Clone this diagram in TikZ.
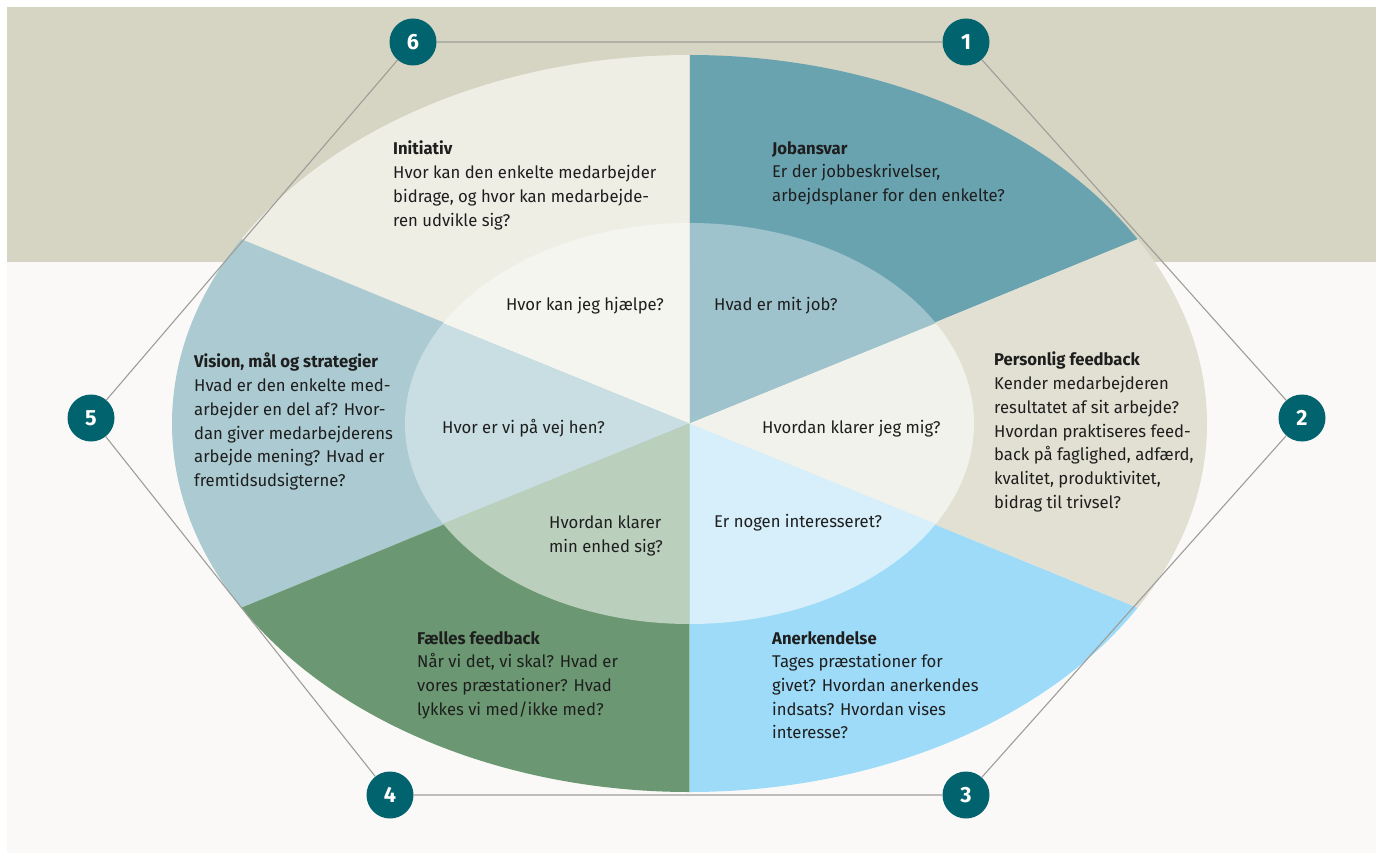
\documentclass[tikz,border=0pt]{standalone}
\usepackage{fontspec}
\setmainfont{Fira Sans}[FakeStretch=0.98]
\usetikzlibrary{calc}
\definecolor{bandc}{HTML}{D6D4C3}
\definecolor{bglight}{HTML}{FAF9F7}
\definecolor{jobO}{HTML}{69A3B0}
\definecolor{jobI}{HTML}{9EC3CC}
\definecolor{iniO}{HTML}{EEEEE5}
\definecolor{iniI}{HTML}{F5F5EF}
\definecolor{visO}{HTML}{ABCAD1}
\definecolor{visI}{HTML}{C9DEE2}
\definecolor{falO}{HTML}{6B9872}
\definecolor{falI}{HTML}{BAD0BC}
\definecolor{aneO}{HTML}{9EDBF8}
\definecolor{aneI}{HTML}{D6EFFB}
\definecolor{perO}{HTML}{E1E0D3}
\definecolor{perI}{HTML}{F2F2EC}
\definecolor{tealc}{HTML}{00636E}
\definecolor{hexc}{HTML}{9E9E99}
\definecolor{txtc}{HTML}{1E1E1E}
\newcommand\wedgeseg[4]{%
  \fill[#2] (C) -- ($(C)+(#1:#3 and #4)$) arc[start angle=#1, delta angle=60, x radius=#3, y radius=#4] -- cycle;}
\begin{document}
\begin{tikzpicture}[x=1pt,y=1pt,
  numc/.style={circle, fill=tealc, minimum size=47pt, inner sep=0pt, text=white, font=\fontsize{22}{22}\selectfont\bfseries},
  hexline/.style={draw=hexc, line width=1.1pt},
  txt/.style={anchor=north west, inner sep=0pt, align=left, text=txtc, font=\fontsize{17}{23.7}\selectfont},
  qtxt/.style={inner sep=0pt, text=txtc, font=\fontsize{17}{23.7}\selectfont}]
\useasboundingbox (0,0) rectangle (1376,-856);
\fill[white] (0,0) rectangle (1376,-856);
\fill[bglight] (7,-7) rectangle (1376,-853);
\fill[bandc] (7,-7) rectangle (1376,-262);
\coordinate (C) at (689.5,-423.5);
% outer sectors
\wedgeseg{30}{jobO}{517.5}{368.5}
\wedgeseg{90}{iniO}{517.5}{368.5}
\wedgeseg{150}{visO}{517.5}{368.5}
\wedgeseg{210}{falO}{517.5}{368.5}
\wedgeseg{270}{aneO}{517.5}{368.5}
\wedgeseg{330}{perO}{517.5}{368.5}
% inner sectors
\wedgeseg{30}{jobI}{284.5}{200.5}
\wedgeseg{90}{iniI}{284.5}{200.5}
\wedgeseg{150}{visI}{284.5}{200.5}
\wedgeseg{210}{falI}{284.5}{200.5}
\wedgeseg{270}{aneI}{284.5}{200.5}
\wedgeseg{330}{perI}{284.5}{200.5}
% numbered circles
\node[numc] (c1) at (966,-42) {1};
\node[numc] (c2) at (1302,-418) {2};
\node[numc] (c3) at (966,-795) {3};
\node[numc] (c4) at (390,-795) {4};
\node[numc] (c5) at (91,-418) {5};
\node[numc] (c6) at (413,-42) {6};
\draw[hexline] (c6) -- (c1) -- (c2) -- (c3) -- (c4) -- (c5) -- (c6);
% outer texts
\node[txt] (tini) at (393,-141) {\textbf{Initiativ}\\Hvor kan den enkelte medarbejder\\bidrage, og hvor kan medarbejde-\\ren udvikle sig?};
\node[txt] (tjob) at (772,-141) {\textbf{Jobansvar}\\Er der jobbeskrivelser,\\arbejdsplaner for den enkelte?};
\node[txt] (tvis) at (194,-353) {\textbf{Vision, mål og strategier}\\Hvad er den enkelte med-\\arbejder en del af? Hvor-\\dan giver medarbejderens\\arbejde mening? Hvad er\\fremtidsudsigterne?};
\node[txt] (tper) at (994,-352) {\textbf{Personlig feedback}\\Kender medarbejderen\\resultatet af sit arbejde?\\Hvordan praktiseres feed-\\back på faglighed, adfærd,\\kvalitet, produktivitet,\\bidrag til trivsel?};
\node[txt] (tfal) at (417,-631) {\textbf{Fælles feedback}\\Når vi det, vi skal? Hvad er\\vores præstationer? Hvad\\lykkes vi med/ikke med?};
\node[txt] (tane) at (772,-631) {\textbf{Anerkendelse}\\Tages præstationer for\\givet? Hvordan anerkendes\\indsats? Hvordan vises\\interesse?};
% inner texts
\node[qtxt, anchor=base east] (qini) at (664,-310) {Hvor kan jeg hjælpe?};
\node[qtxt, anchor=base west] (qjob) at (714,-310) {Hvad er mit job?};
\node[qtxt, anchor=base west] (qvis) at (442,-433) {Hvor er vi på vej hen?};
\node[qtxt, anchor=base west] (qper) at (762,-433) {Hvordan klarer jeg mig?};
\node[txt] (qfal) at (549,-516) {Hvordan klarer\\min enhed sig?};
\node[qtxt, anchor=base west] (qane) at (714,-527) {Er nogen interesseret?};
\end{tikzpicture}
\end{document}
